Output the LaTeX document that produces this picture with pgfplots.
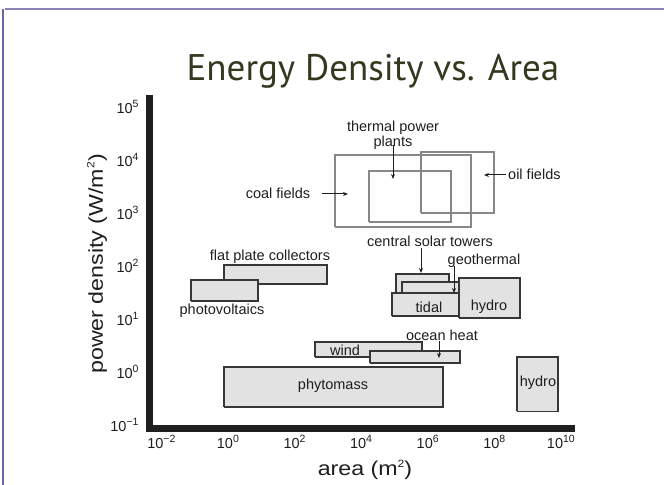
\documentclass[border=0pt]{standalone}
\usepackage{pgfplots}
\pgfplotsset{compat=1.18}
\usepackage{graphicx}
\usepackage{fontspec}
\setmainfont{Liberation Sans}
\newfontfamily\titlefont{PT Sans}
\usetikzlibrary{arrows.meta}
\definecolor{boxfill}{RGB}{226,226,226}
\definecolor{boxdraw}{RGB}{55,55,55}
\definecolor{openbox}{RGB}{135,135,135}
\definecolor{titlecol}{RGB}{52,56,30}
\definecolor{framecol}{RGB}{110,100,160}
\definecolor{txt}{RGB}{30,30,30}
\newcommand{\supx}[1]{\raisebox{0.42em}{\fontsize{10.5bp}{11bp}\selectfont #1}}
\begin{document}
\begin{tikzpicture}
\path[use as bounding box] (-150bp,-57bp) rectangle (514bp,428bp);
\begin{axis}[
  scale only axis, width=421.4bp, height=329.5bp,
  anchor=south west, at={(0,0)},
  xmode=log, ymode=log,
  xmin=4.57e-3, xmax=2.07e10,
  ymin=0.0877, ymax=1.45e5,
  axis x line=bottom, axis y line=left,
  axis line style={line width=7bp, black!88, -, line cap=rect},
  xtick={1e-2,1,1e2,1e4,1e6,1e8,1e10},
  xticklabels={10\supx{−2},10\supx{0},10\supx{2},10\supx{4},10\supx{6},10\supx{8},10\supx{10}},
  ytick={0.1,1,10,100,1e3,1e4,1e5},
  yticklabels={10\supx{−1},10\supx{0},10\supx{1},10\supx{2},10\supx{3},10\supx{4},10\supx{5}},
  minor tick num=0, major tick length=0pt, minor tick length=0pt,
  tick label style={font=\fontsize{14.5bp}{16bp}\selectfont, text=txt},
  xticklabel style={yshift=-4bp},
  yticklabel style={xshift=-8bp},
  clip=false,
]
% coal fields, thermal power plants, oil fields (open boxes)
\addplot[draw=openbox, line width=2bp, line join=miter] coordinates {(1.6e3,550) (2.0e7,550) (2.0e7,1.23e4) (1.6e3,1.23e4) (1.6e3,550)};
\addplot[draw=openbox, line width=2bp, line join=miter] coordinates {(1.7e4,680) (5.0e6,680) (5.0e6,6.2e3) (1.7e4,6.2e3) (1.7e4,680)};
\addplot[draw=openbox, line width=2bp, line join=miter] coordinates {(6.3e5,1000) (9.8e7,1000) (9.8e7,1.4e4) (6.3e5,1.4e4) (6.3e5,1000)};
% central solar towers, geothermal, tidal, hydro
\addplot[draw=boxdraw, fill=boxfill, line width=1.8bp, line join=miter] coordinates {(1.1e5,20) (4.4e6,20) (4.4e6,71) (1.1e5,71) (1.1e5,20)};
\addplot[draw=boxdraw, fill=boxfill, line width=1.8bp, line join=miter] coordinates {(1.7e5,16) (8.7e6,16) (8.7e6,50) (1.7e5,50) (1.7e5,16)};
\addplot[draw=boxdraw, fill=boxfill, line width=1.8bp, line join=miter] coordinates {(8.3e4,11.5) (8.7e6,11.5) (8.7e6,31) (8.3e4,31) (8.3e4,11.5)};
\addplot[draw=boxdraw, fill=boxfill, line width=1.8bp, line join=miter] coordinates {(8.7e6,10.5) (5.9e8,10.5) (5.9e8,59) (8.7e6,59) (8.7e6,10.5)};
% flat plate collectors, photovoltaics
\addplot[draw=boxdraw, fill=boxfill, line width=1.8bp, line join=miter] coordinates {(0.76,46) (930,46) (930,105) (0.76,105) (0.76,46)};
\addplot[draw=boxdraw, fill=boxfill, line width=1.8bp, line join=miter] coordinates {(0.078,22) (7.9,22) (7.9,55) (0.078,55) (0.078,22)};
% wind, ocean heat
\addplot[draw=boxdraw, fill=boxfill, line width=1.8bp, line join=miter] coordinates {(410,1.9) (6.8e5,1.9) (6.8e5,3.7) (410,3.7) (410,1.9)};
\addplot[draw=boxdraw, fill=boxfill, line width=1.8bp, line join=miter] coordinates {(1.8e4,1.5) (9.3e6,1.5) (9.3e6,2.5) (1.8e4,2.5) (1.8e4,1.5)};
% phytomass, hydro
\addplot[draw=boxdraw, fill=boxfill, line width=1.8bp, line join=miter] coordinates {(0.76,0.22) (2.9e6,0.22) (2.9e6,1.23) (0.76,1.23) (0.76,0.22)};
\addplot[draw=boxdraw, fill=boxfill, line width=1.8bp, line join=miter] coordinates {(4.8e8,0.18) (8.1e9,0.18) (8.1e9,1.9) (4.8e8,1.9) (4.8e8,0.18)};
\end{axis}
% labels and arrows
\begin{scope}[font=\fontsize{14.5bp}{13bp}\selectfont, text=txt]
\node[align=center] at (243bp,293bp) {thermal power\\plants};
\draw[txt, line width=1bp, -{Stealth[length=5bp,width=4bp]}] (243bp,283bp) -- (243bp,249bp);
\node at (128bp,235bp) {coal fields};
\draw[txt, line width=1bp, -{Stealth[length=5bp,width=4bp]}] (172bp,234bp) -- (198bp,234bp);
\node[anchor=west, inner sep=0pt] at (358bp,254bp) {oil fields};
\draw[txt, line width=1bp, -{Stealth[length=5bp,width=4bp]}] (356bp,253bp) -- (334bp,253bp);
\node at (280bp,187bp) {central solar towers};
\draw[txt, line width=1bp, -{Stealth[length=5bp,width=4bp]}] (271bp,180bp) -- (271bp,155bp);
\node at (334bp,167bp) {geothermal};
\draw[txt, line width=1bp, -{Stealth[length=5bp,width=4bp]}] (304bp,162bp) -- (304bp,135bp);
\node at (279bp,121bp) {tidal};
\node at (339bp,121bp) {hydro};
\node at (292bp,93bp) {ocean heat};
\draw[txt, line width=1bp, -{Stealth[length=5bp,width=4bp]}] (289bp,87bp) -- (289bp,70bp);
\node at (195bp,78bp) {wind};
\node at (183bp,42bp) {phytomass};
\node at (388bp,45bp) {hydro};
\node at (120bp,171bp) {flat plate collectors};
\node at (72bp,117bp) {photovoltaics};
\end{scope}
% axis titles
\node[rotate=90, text=txt, font=\fontsize{20bp}{22bp}\selectfont] at (-53bp,164bp) {\scalebox{1.16}[1]{power density (W/m\supx{2})}};
\node[text=txt, font=\fontsize{20bp}{22bp}\selectfont] at (215bp,-42bp) {\scalebox{1.16}[1]{area (m\supx{2})}};
% slide title and frame
\node[text=titlecol, font=\titlefont\fontsize{37bp}{42bp}\selectfont] at (223bp,357bp) {Energy Density vs. Area};
\draw[framecol!80, line width=1.5bp] (-145bp,419bp) -- (514bp,419bp);
\draw[framecol, line width=1.5bp] (-147bp,419bp) -- (-147bp,-57bp);
\end{tikzpicture}
\end{document}
